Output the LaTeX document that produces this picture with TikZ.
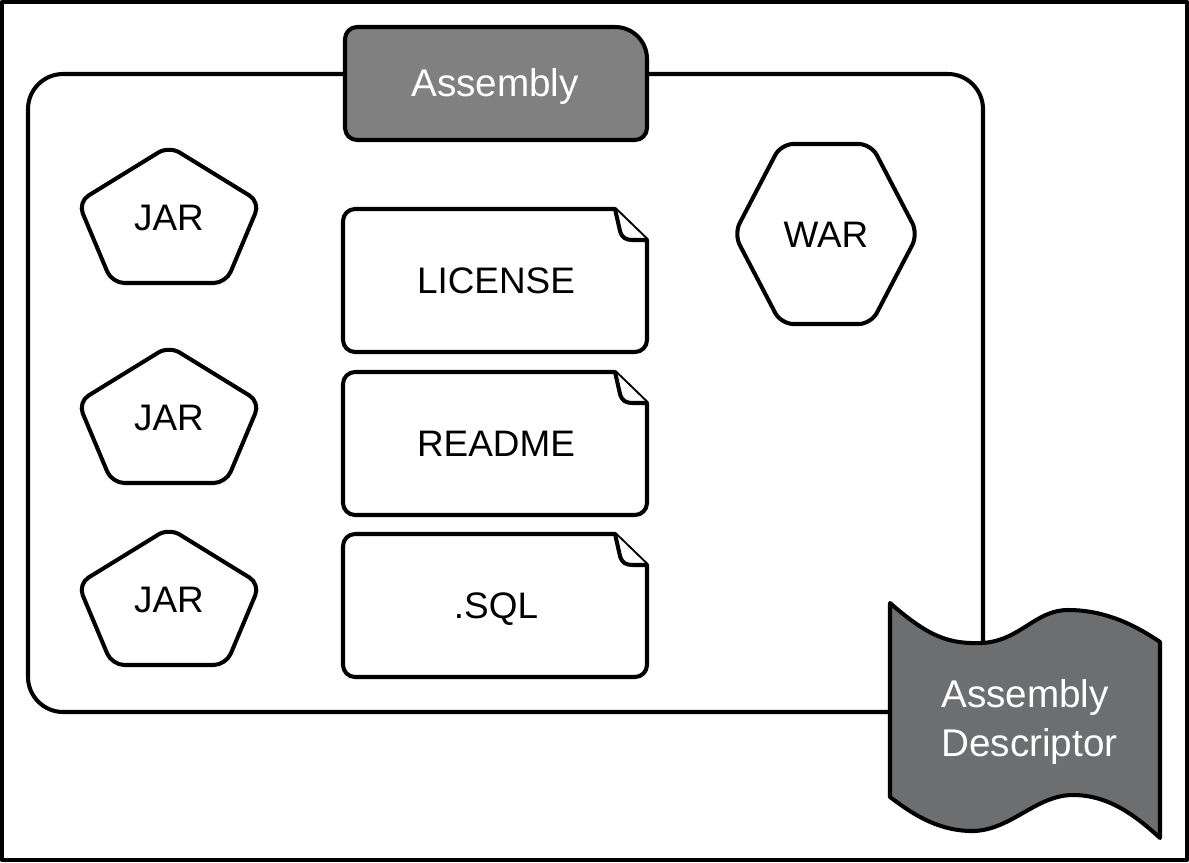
\documentclass[tikz,border=0pt]{standalone}
\usepackage{fontspec}
\setmainfont{Liberation Sans}
\definecolor{tabgray}{HTML}{808080}
\definecolor{descgray}{HTML}{6D6E70}
\newcommand\docshape[3]{%
  \begin{scope}[shift={(343,#2)}]
    \draw[shapeline] (272,0) -- (12,0) .. controls (5.4,0) and (0,5.4) .. (0,12)
      -- (0,131) .. controls (0,137.6) and (5.4,143) .. (12,143)
      -- (292,143) .. controls (298.6,143) and (304,137.6) .. (304,131)
      -- (304,31) -- cycle;
    \draw[shapeline] (272,0) -- (277,22) .. controls (279,29) and (283,31) .. (290,31) -- (304,31);
    \node[lbl] (#1) at (153,84) {#3};
  \end{scope}}
\newcommand\jarshape[2]{%
  \begin{scope}[shift={(169,#2)}]
    \draw[shapeline, rounded corners=7pt] (0,-2) -- (91,54) -- (57,135) -- (-57,135) -- (-91,54) -- cycle;
    \node[lbl] (#1) at (0,82) {JAR};
  \end{scope}}
\begin{document}
\begin{tikzpicture}[x=0.02cm, y=-0.02cm, line join=round,
  shapeline/.style={draw=black, line width=2.3pt, fill=white},
  lbl/.style={font=\fontsize{21}{25}\selectfont, text=black, anchor=base, inner sep=0pt},
  wlbl/.style={font=\fontsize{22}{28}\selectfont, text=white, inner sep=0pt}]
\useasboundingbox (0,0) rectangle (1189,862);
\draw[line width=2.4pt] (2,2) rectangle (1187,860);
% main container
\draw[shapeline, rounded corners=20pt] (28,74) rectangle (983,712);
% Assembly tab
\draw[shapeline, fill=tabgray] (345,128) -- (345,39) .. controls (345,32.4) and (350.4,27) .. (357,27)
  -- (615,27) .. controls (632.7,27) and (647,41.3) .. (647,59)
  -- (647,128) .. controls (647,134.6) and (641.6,140) .. (635,140)
  -- (357,140) .. controls (350.4,140) and (345,134.6) .. (345,128) -- cycle;
\node[wlbl, anchor=base] (tab) at (495,96) {Assembly};
% JARs
\jarshape{jar1}{148}
\jarshape{jar2}{348}
\jarshape{jar3}{530}
% documents
\docshape{lic}{209}{LICENSE}
\docshape{readme}{372}{README}
\docshape{sql}{534}{.SQL}
% WAR hexagon
\draw[shapeline, rounded corners=7pt] (781,144) -- (871,144) -- (918,234) -- (871,324) -- (781,324) -- (734,234) -- cycle;
\node[lbl] (war) at (826,247) {WAR};
% Assembly Descriptor
\draw[shapeline, fill=descgray] (890,603)
  .. controls (930,638) and (950,644) .. (982,643)
  .. controls (1020,641) and (1035,610) .. (1068,610)
  .. controls (1105,610) and (1135,625) .. (1160,642)
  -- (1160,838)
  .. controls (1135,815) and (1108,795) .. (1073,795)
  .. controls (1035,795) and (1010,832) .. (970,831)
  .. controls (935,830) and (910,812) .. (890,797) -- cycle;
\node[wlbl, anchor=west, align=left] (desc) at (941,722) {Assembly\\Descriptor};
\end{tikzpicture}
\end{document}
